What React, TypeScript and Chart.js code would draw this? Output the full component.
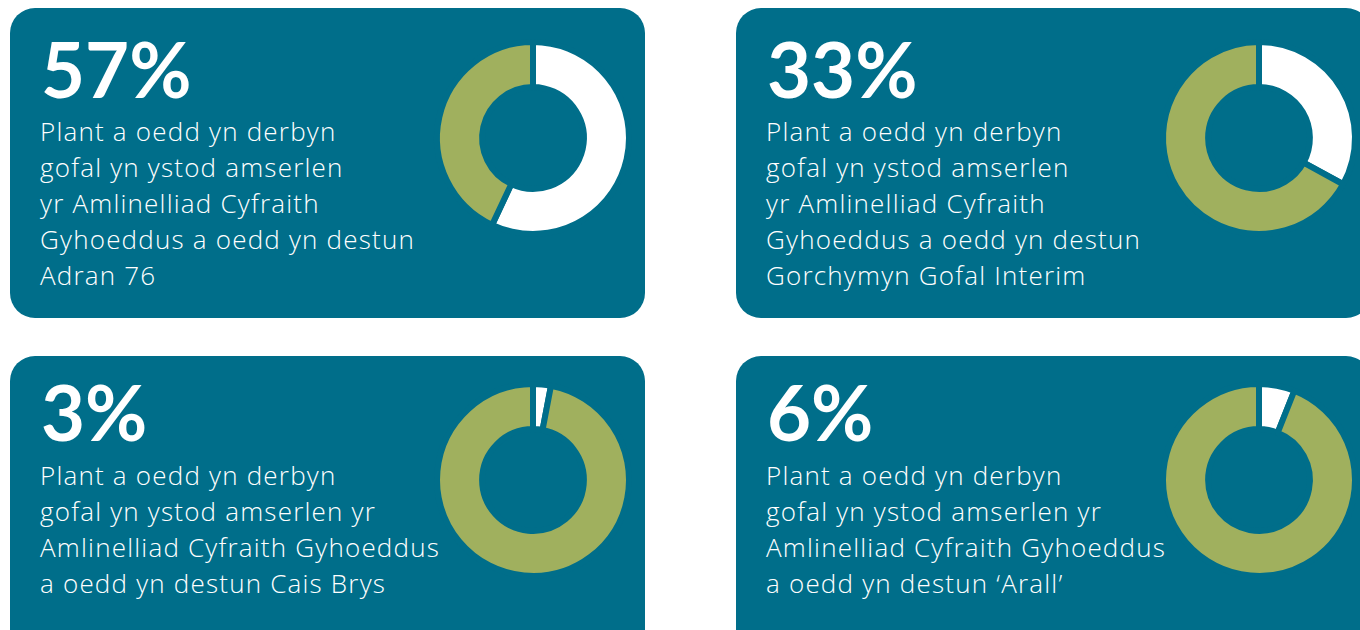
import React, { useEffect, useRef } from "react";
import { Chart, registerables } from "chart.js";

Chart.register(...registerables);

// ---- Data ----
const percentages = [57, 33, 3, 6];
const percentLabels = ["57%", "33%", "3%", "6%"];
const remainders = [43, 67, 97, 94];
const descriptions: string[][] = [
  [
    "Plant a oedd yn derbyn",
    "gofal yn ystod amserlen",
    "yr Amlinelliad Cyfraith",
    "Gyhoeddus a oedd yn destun",
    "Adran 76",
  ],
  [
    "Plant a oedd yn derbyn",
    "gofal yn ystod amserlen",
    "yr Amlinelliad Cyfraith",
    "Gyhoeddus a oedd yn destun",
    "Gorchymyn Gofal Interim",
  ],
  [
    "Plant a oedd yn derbyn",
    "gofal yn ystod amserlen yr",
    "Amlinelliad Cyfraith Gyhoeddus",
    "a oedd yn destun Cais Brys",
  ],
  [
    "Plant a oedd yn derbyn",
    "gofal yn ystod amserlen yr",
    "Amlinelliad Cyfraith Gyhoeddus",
    "a oedd yn destun \u2018Arall\u2019",
  ],
];

// ---- Styles / layout ----
const TEAL = "#006e8a";
const GREEN = "#a0b05e";
const WHITE = "#ffffff";

const cardLayout = [
  { x: 10, y: 8, bigTop: 22, bodyTop: 105 },
  { x: 736, y: 8, bigTop: 22, bodyTop: 105 },
  { x: 10, y: 356, bigTop: 17, bodyTop: 101 },
  { x: 736, y: 356, bigTop: 17, bodyTop: 101 },
];
const CARD_W = 635;
const CARD_H = 310;
const DONUT_CX = 523; // relative to card left
const DONUT_CY = [130, 130, 124, 124];
const CANVAS = 220;

function Donut({ value, rest }: { value: number; rest: number }) {
  const ref = useRef<HTMLCanvasElement | null>(null);
  useEffect(() => {
    if (!ref.current) return;
    const chart = new Chart(ref.current, {
      type: "doughnut",
      data: {
        labels: ["value", "rest"],
        datasets: [
          {
            data: [value, rest],
            backgroundColor: [WHITE, GREEN],
            borderColor: TEAL,
            borderWidth: 6,
            hoverOffset: 0,
          },
        ],
      },
      options: {
        animation: false,
        responsive: false,
        maintainAspectRatio: false,
        radius: 96,
        cutout: "53%",
        rotation: 0,
        layout: { padding: 0 },
        plugins: {
          legend: { display: false },
          tooltip: { enabled: false },
        },
        events: [],
      },
    });
    return () => chart.destroy();
  }, [value, rest]);
  return <canvas ref={ref} width={CANVAS} height={CANVAS} style={{ width: CANVAS, height: CANVAS }} />;
}

export default function App() {
  return (
    <div
      style={{
        position: "absolute",
        left: 0,
        top: 0,
        width: 1360,
        height: 630,
        overflow: "hidden",
        background: "#ffffff",
      }}
    >
      {cardLayout.map((c, i) => (
        <div
          key={i}
          style={{
            position: "absolute",
            left: c.x,
            top: c.y,
            width: CARD_W,
            height: CARD_H,
            borderRadius: 25,
            background: TEAL,
            color: "#ffffff",
          }}
        >
          <div
            style={{
              position: "absolute",
              left: 31,
              top: c.bigTop,
              fontSize: 76,
              lineHeight: "78px",
              fontWeight: 700,
              whiteSpace: "nowrap",
              fontFamily: "Lato, 'Noto Sans', sans-serif",
            }}
          >
            {percentLabels[i]}
          </div>
          <div
            style={{
              position: "absolute",
              left: 30,
              top: c.bodyTop,
              fontSize: 26,
              lineHeight: "36px",
              fontWeight: 300,
              letterSpacing: "1.2px",
              whiteSpace: "nowrap",
              fontFamily: "'Open Sans', Lato, sans-serif",
            }}
          >
            {descriptions[i].map((l, j) => (
              <div key={j}>{l}</div>
            ))}
          </div>
          <div
            style={{
              position: "absolute",
              left: DONUT_CX - CANVAS / 2,
              top: DONUT_CY[i] - CANVAS / 2,
              width: CANVAS,
              height: CANVAS,
            }}
          >
            <Donut value={percentages[i]} rest={remainders[i]} />
          </div>
        </div>
      ))}
    </div>
  );
}
